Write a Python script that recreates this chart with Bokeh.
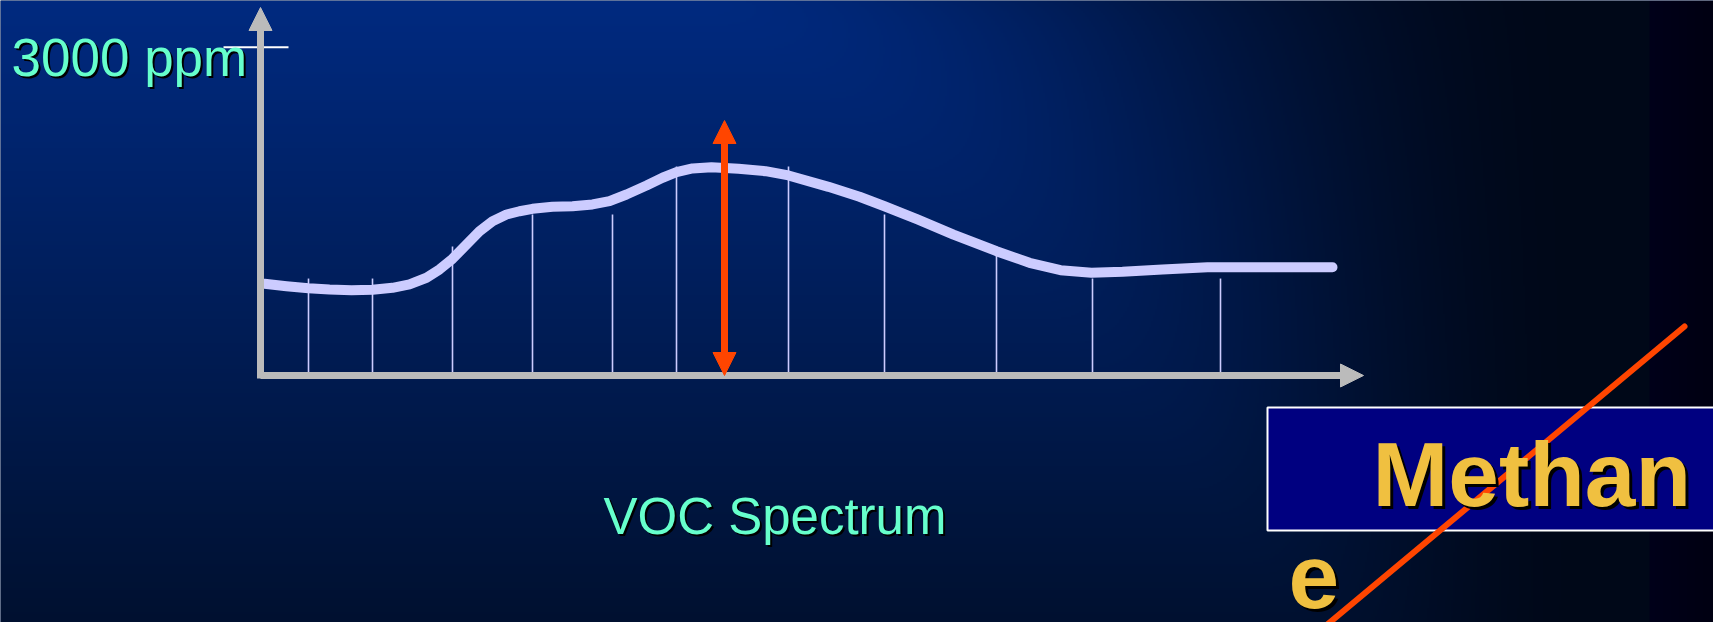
import numpy as np
from bokeh.plotting import figure
from bokeh.models import Label, Arrow, NormalHead
from bokeh.embed import file_html
from bokeh.resources import INLINE

# ---------------- data ----------------
# VOC spectrum curve: position along the spectrum axis, concentration in ppm
spectrum_pos = [4, 26, 48, 69, 91, 112, 132, 149, 166, 179, 192, 206, 219, 232, 246,
                259, 272, 292, 312, 332, 349, 366, 386, 402, 416, 432, 451, 478, 505,
                528, 568, 599, 624, 657, 693, 736, 769, 800, 831, 862, 902, 947, 1014, 1072]
spectrum_ppm = [838, 816, 798, 786, 779, 783, 801, 832, 893, 969, 1066, 1197, 1319, 1410, 1471,
                1501, 1523, 1542, 1547, 1563, 1593, 1654, 1736, 1807, 1858, 1892, 1902, 1889, 1867,
                1828, 1724, 1633, 1547, 1426, 1288, 1136, 1030, 962, 938, 948, 969, 990, 990, 990]
# thin sampling lines below the curve
line_pos = [48, 112, 192, 272, 352, 416, 528, 624, 736, 832, 960]
line_ppm = [886, 886, 1179, 1471, 1471, 1910, 1910, 1471, 1179, 886, 886]
# marker (red double arrow) position and height
marker_pos = [464]
marker_ppm = [2330]
y_tick_value = 3000
y_tick_label = "3000 ppm"
x_label = "VOC Spectrum"
box_text_1 = "Methan"
box_text_2 = "e"

# ---------------- layout helpers (reference pixel -> data) ----------------
W, H = 1713, 622
OX, OY = 1, 1              # where the figure's corner sits in the reference picture
K = 3000 / 328.3           # ppm per pixel
def X(px):
    return px - 261
def Y(py):
    return (376 - py) * K

p = figure(width=W, height=H, x_range=(X(OX), X(OX + W)), y_range=(Y(OY + H), Y(OY)),
           x_axis_type=None, y_axis_type=None, toolbar_location=None,
           output_backend="svg", min_border=0)
p.grid.visible = False
p.outline_line_color = None
p.background_fill_color = "#00184a"
p.border_fill_color = "#00184a"

# ---------------- background gradient ----------------
step = 2
nx, ny = W // step + 1, H // step + 1
sx = OX + (np.arange(nx) + 0.5) * step
sy = OY + H - (np.arange(ny) + 0.5) * step      # row 0 at bottom
SX, SY = np.meshgrid(sx, sy)
ty = np.clip(SY / 638.0, 0, 1)
Lg = 42 + (16 - 42) * ty
Lb = 128 + (46 - 128) * ty
x0 = 650 + 650 * ty ** 0.7
t = np.clip((SX - x0) / (1600 - x0), 0, 1)
s = t * t * (3 - 2 * t)
w = 1 - s
Rg, Rb = 8.0, 24.0
G = Rg + (Lg - Rg) * w
B = Rb + (Lb - Rb) * w
far = SX > 1650
G = np.where(far, 0, G)
B = np.where(far, 26 - 10 * np.clip((SX - 1650) / 79, 0, 1), B)
img = np.zeros((ny, nx, 4), dtype=np.uint8)
img[..., 1] = np.clip(G, 0, 255).astype(np.uint8)
img[..., 2] = np.clip(B, 0, 255).astype(np.uint8)
img[..., 3] = 255
p.image_rgba(image=[img.view(dtype=np.uint32).reshape((ny, nx))],
             x=X(OX), y=Y(OY + H), dw=W, dh=Y(OY) - Y(OY + H))

# ---------------- chart ----------------
axis_col = "#bbbbbb"
p.segment(x0=line_pos, y0=[0] * len(line_pos), x1=line_pos, y1=line_ppm,
          line_color="#ccccff", line_width=1.6)

p.add_layout(Arrow(end=NormalHead(size=23, fill_color=axis_col, line_color=axis_col),
                   x_start=0, y_start=0, x_end=X(1364), y_end=0,
                   line_color=axis_col, line_width=7))
p.add_layout(Arrow(end=NormalHead(size=23, fill_color=axis_col, line_color=axis_col),
                   x_start=0, y_start=Y(379), x_end=0, y_end=Y(8),
                   line_color=axis_col, line_width=7))

p.line(spectrum_pos, spectrum_ppm, line_color="#ccccff", line_width=10,
       line_cap="round", line_join="round")

p.segment(x0=[X(224)], y0=[y_tick_value], x1=[X(289)], y1=[y_tick_value],
          line_color="white", line_width=2)

red = "#ff4500"
for mx, my in zip(marker_pos, marker_ppm):
    p.add_layout(Arrow(start=NormalHead(size=23, fill_color=red, line_color=red),
                       end=NormalHead(size=23, fill_color=red, line_color=red),
                       x_start=mx, y_start=0, x_end=mx, y_end=my,
                       line_color=red, line_width=7))

# ---------------- texts ----------------
def shadow_label(x, y, text, size, color, bold=False, off=2):
    style = "bold" if bold else "normal"
    lift = (0.32 if bold else 0.32) * size * K     # baseline correction
    y = y + lift
    fs = f"{size}px"
    p.add_layout(Label(x=x + off, y=y - off * K, text=text, text_font="Liberation Sans",
                       text_font_size=fs, text_font_style=style, text_color="black",
                       text_baseline="alphabetic", text_align="left"))
    p.add_layout(Label(x=x, y=y, text=text, text_font="Liberation Sans",
                       text_font_size=fs, text_font_style=style, text_color=color,
                       text_baseline="alphabetic", text_align="left"))

shadow_label(X(12), Y(75), y_tick_label, 53, "#66ffcc")
shadow_label(X(604), Y(533), x_label, 51, "#66ffcc")

# Methane box
p.quad(left=[X(1268)], right=[X(1900)], top=[Y(408)], bottom=[Y(531)],
       fill_color="#000080", line_color="white", line_width=2)
shadow_label(X(1373), Y(504), box_text_1, 91, "#f0c040", bold=True, off=3)
shadow_label(X(1289), Y(606), box_text_2, 91, "#f0c040", bold=True, off=3)

p.segment(x0=[X(1317)], y0=[Y(634)], x1=[X(1685)], y1=[Y(327)],
          line_color=red, line_width=6, line_cap="round")

open("out.html", "w").write(file_html(p, INLINE))
